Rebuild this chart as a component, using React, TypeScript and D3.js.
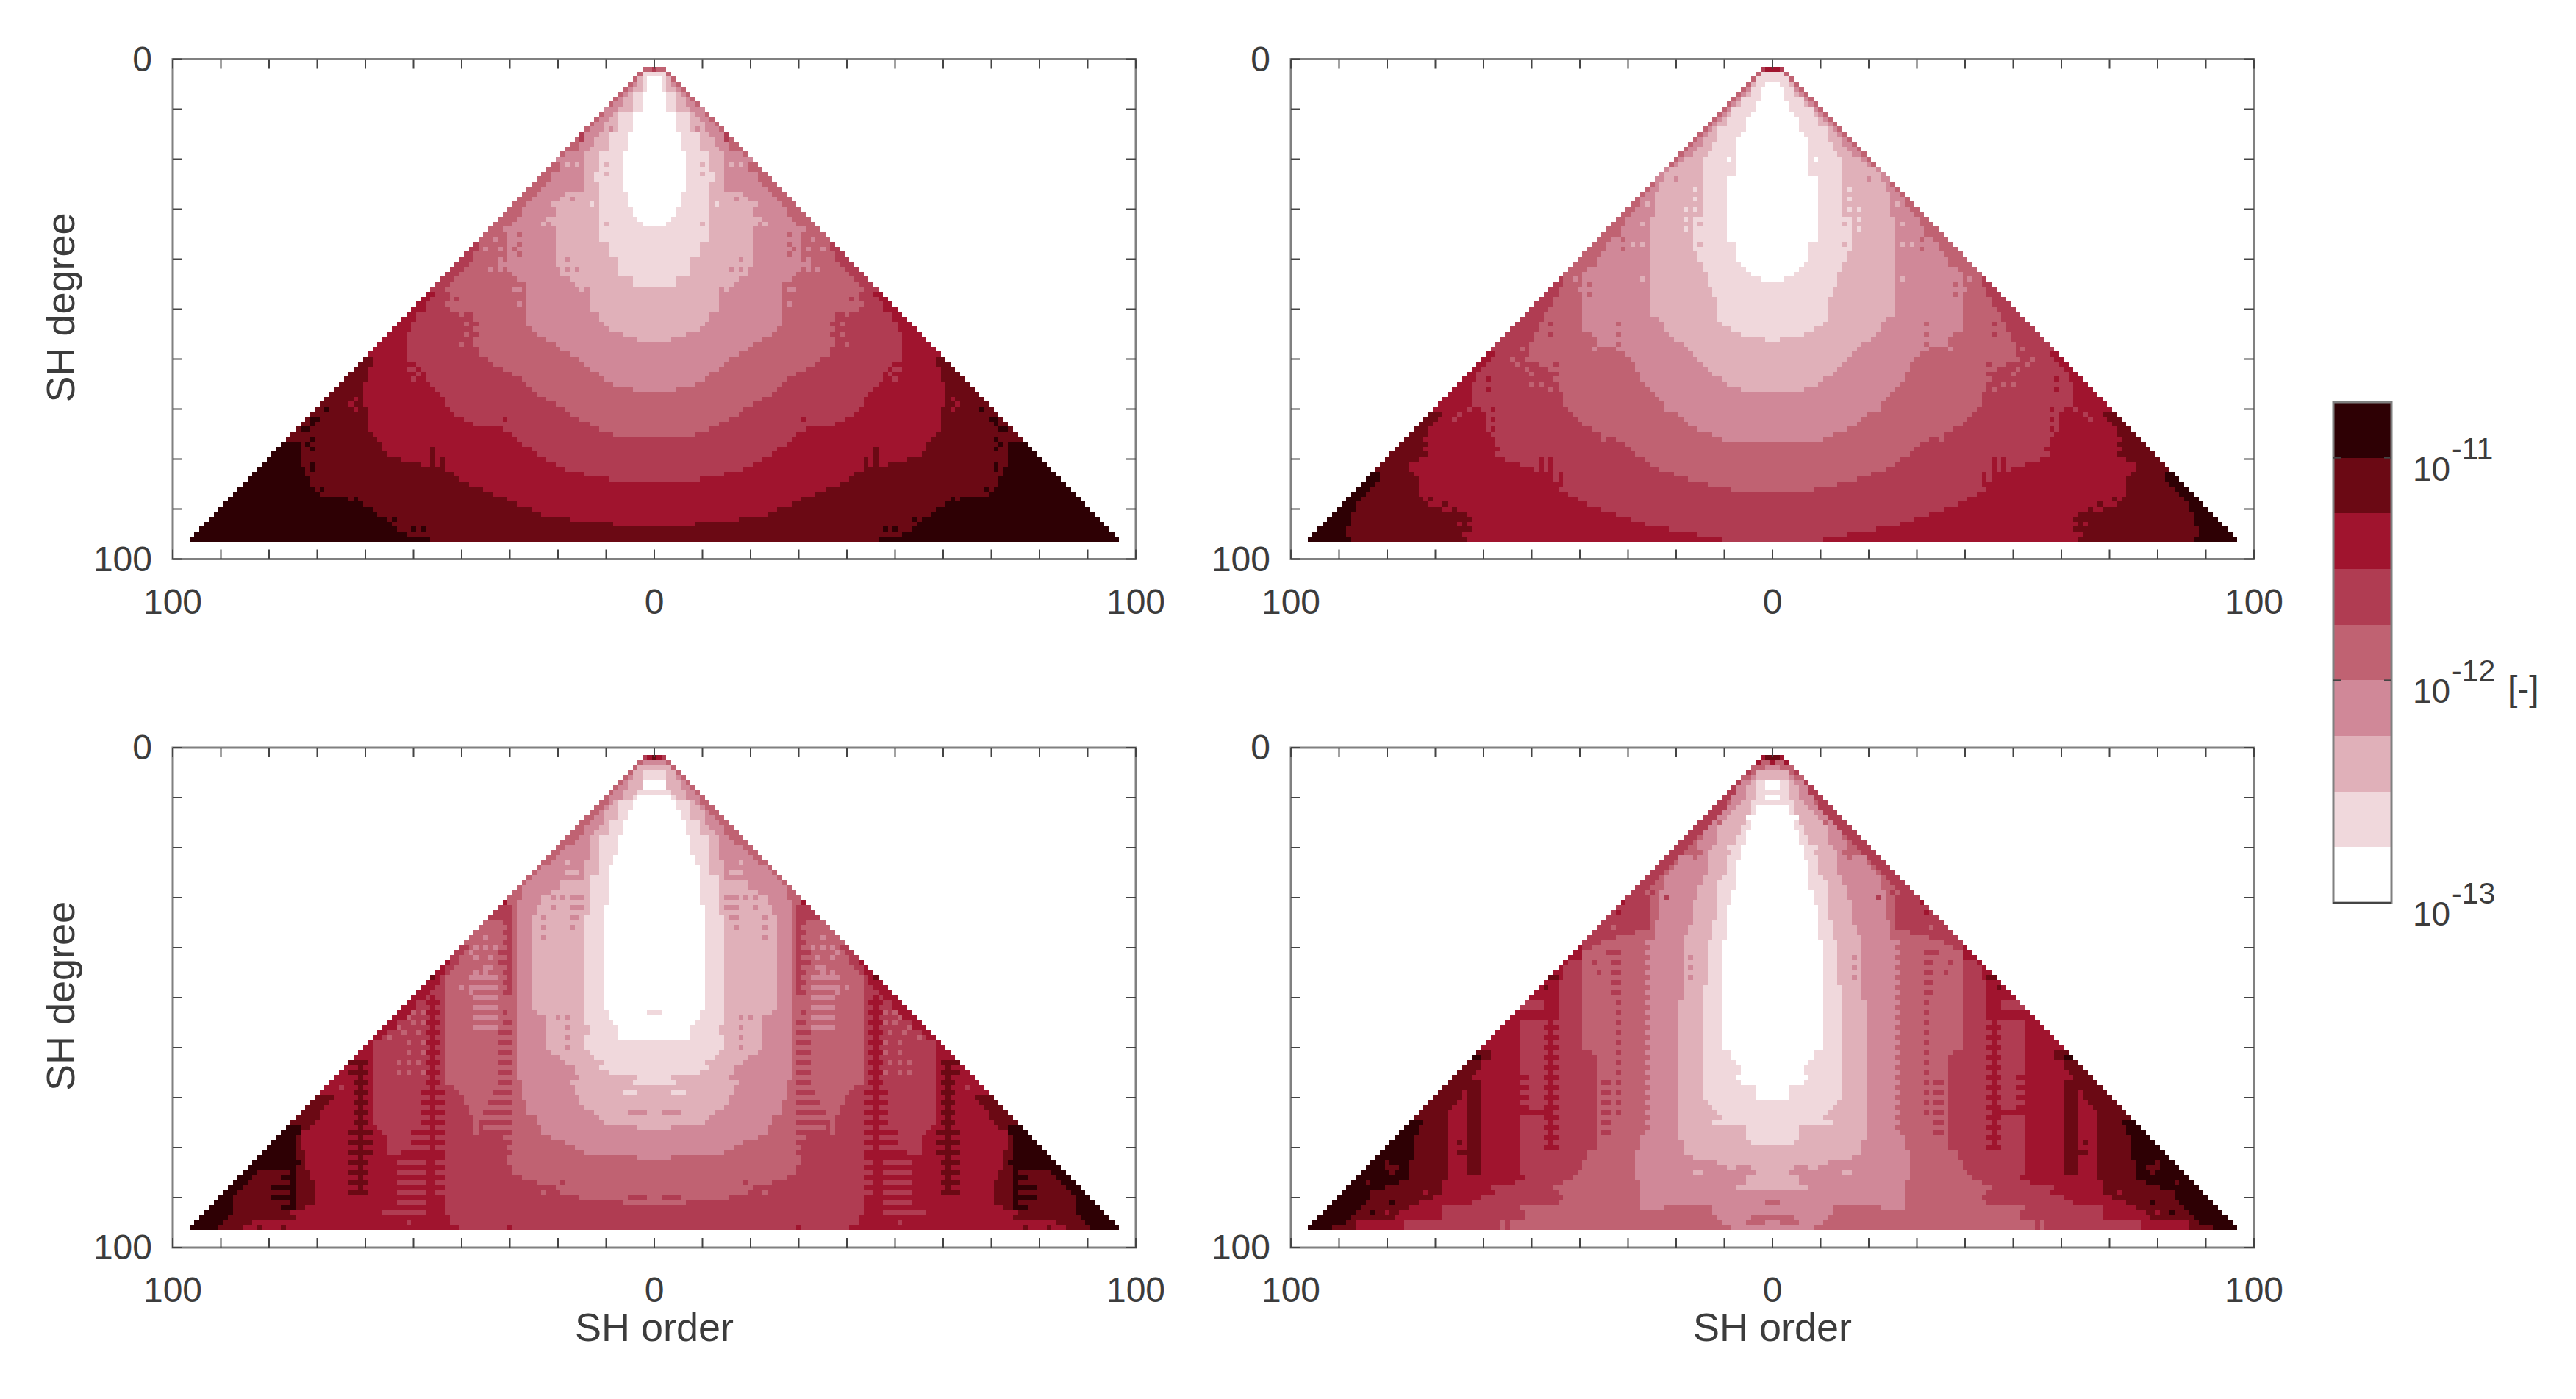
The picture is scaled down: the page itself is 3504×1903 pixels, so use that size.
import * as d3 from 'd3';

// one colour per band of the colour bar, lowest first
const bandColors = ['#ffffff', '#f0d8dc', '#e0b0b9', '#d08898', '#c06272', '#b03c52', '#a0142e', '#6b0914', '#2e0004'];
const bandExponents = [-13, -12.75, -12.5, -12.25, -12, -11.75, -11.5, -11.25, -11, -10.75];
const barTicks = [1e-13, 1e-12, 1e-11];
const barLabels = ['-13', '-12', '-11'];

const gridTicks = d3.range(-100, 101, 10);
const degreeTicks = d3.range(0, 101, 10);
const orderLabels = [-100, 0, 100];
const degreeLabels = [0, 100];
const firstDegree = 2;
const lastDegree = 96;

type Steps = number[][];

// for each band: [last degree of the step, largest |order| still in that band or lower]
const tlLevels: Steps[] = [
  [[3, -1], [6, 1], [10, 2], [14, 4], [18, 5], [26, 6], [29, 5], [31, 4], [32, 3], [33, 2]],
  [[2, -1], [6, 2], [10, 4], [14, 7], [18, 9], [22, 11], [24, 12], [36, 11], [39, 9], [43, 7], [45, 4]],
  [[2, -1], [3, 2], [5, 3], [6, 4], [7, 5], [9, 6], [10, 7], [11, 8], [12, 9], [14, 10], [15, 11], [17, 12], [18, 13], [25, 14], [26, 15], [27, 18], [28, 19], [31, 20], [33, 21], [41, 20], [43, 19], [44, 17], [45, 16], [50, 13], [52, 11], [53, 10], [54, 9], [55, 6], [56, 3]],
  [[2, -1], [3, 2], [4, 3], [5, 4], [6, 5], [7, 6], [8, 7], [9, 8], [11, 10], [12, 11], [13, 12], [14, 13], [16, 14], [18, 15], [19, 18], [20, 20], [22, 19], [24, 21], [25, 22], [26, 23], [27, 24], [28, 25], [29, 26], [31, 27], [32, 28], [33, 29], [42, 30], [43, 29], [44, 28], [53, 26], [54, 25], [55, 24], [56, 22], [57, 20], [58, 19], [59, 17], [60, 15], [61, 14], [62, 13], [63, 11], [64, 10], [65, 8], [66, 4]],
  [[36, 100], [38, 36], [40, 37], [41, 38], [42, 39], [43, 40], [44, 41], [50, 42], [57, 37], [59, 36], [60, 34], [61, 33], [62, 31], [63, 29], [64, 27], [65, 26], [66, 25], [67, 24], [68, 22], [69, 20], [70, 18], [71, 17], [72, 15], [73, 13], [74, 11], [75, 8]],
  [[46, 100], [47, 45], [48, 46], [50, 47], [52, 49], [54, 50], [60, 51], [61, 49], [62, 48], [64, 47], [65, 46], [66, 45], [67, 44], [69, 43], [70, 42], [71, 41], [72, 39], [73, 37], [74, 31], [75, 29], [76, 28], [77, 27], [78, 25], [79, 24], [80, 22], [81, 20], [82, 18], [83, 14], [84, 9]],
  [[59, 100], [61, 58], [64, 59], [69, 60], [74, 59], [75, 58], [76, 57], [78, 56], [79, 55], [80, 52], [81, 48], [82, 44], [83, 41], [84, 40], [85, 38], [86, 35], [87, 33], [88, 30], [89, 28], [90, 25], [91, 23], [92, 17], [93, 8]],
  [[76, 100], [81, 73], [83, 72], [85, 71], [86, 70], [87, 69], [88, 63], [89, 60], [90, 59], [91, 57], [92, 55], [93, 54], [94, 53], [95, 51], [96, 46]],
];
// [first degree, last degree, every n-th degree, from |order|, to |order|, band]
const tlRuns: number[][] = [
  [78, 82, 1, 46, 46, 7],
  [80, 83, 1, 44, 44, 7],
];
// [degree, |order|, band]
const tlFlecks: number[][] = [
  [2, 0, 5], [14, 9, 3], [21, 10, 2], [23, 10, 2], [29, 13, 1], [33, 10, 2], [21, 18, 2], [21, 16, 2], [26, 17, 3], [26, 15, 3], [28, 17, 3],
  [33, 23, 2], [33, 21, 2], [29, 21, 2], [30, 20, 2], [32, 22, 2], [32, 20, 2], [35, 28, 4], [37, 28, 4], [38, 29, 4], [39, 28, 4],
  [34, 31, 3], [36, 33, 3], [38, 35, 3], [38, 32, 3], [40, 32, 3], [41, 31, 3], [41, 32, 3], [42, 34, 3], [42, 32, 3],
  [40, 18, 3], [42, 18, 3], [42, 16, 3], [46, 15, 2], [46, 28, 3], [46, 29, 3], [49, 28, 3], [46, 43, 4], [48, 41, 5], [49, 43, 4],
  [15, 15, 5], [16, 15, 5], [72, 31, 6], [53, 39, 4], [55, 39, 4], [51, 40, 4], [57, 40, 4], [53, 37, 5], [55, 37, 5],
  [62, 50, 5], [62, 51, 5], [63, 49, 5], [64, 50, 5], [68, 62, 6], [70, 62, 6], [69, 63, 6],
  [76, 71, 8], [77, 72, 8], [78, 71, 8], [81, 71, 8], [82, 71, 8], [86, 69, 8], [92, 54, 8], [94, 50, 8], [94, 48, 8], [88, 62, 8], [90, 59, 8],
  [70, 68, 8], [72, 70, 8], [72, 71, 8], [73, 71, 8], [74, 72, 8], [74, 73, 8],
];

const trLevels: Steps[] = [
  [[4, -1], [5, 1], [8, 2], [10, 3], [11, 4], [14, 5], [15, 6], [23, 7], [36, 9], [40, 7], [41, 6], [42, 5], [43, 4], [44, 2]],
  [[2, -1], [3, 2], [5, 3], [7, 4], [9, 6], [11, 8], [13, 9], [16, 11], [18, 12], [19, 13], [31, 14], [38, 16], [40, 15], [42, 14], [45, 13], [47, 12], [52, 11], [53, 10], [54, 8], [55, 6], [56, 1]],
  [[2, -1], [3, 2], [4, 3], [6, 4], [7, 5], [8, 6], [9, 7], [10, 8], [11, 9], [12, 10], [13, 11], [14, 12], [15, 13], [17, 14], [18, 15], [19, 16], [20, 18], [21, 19], [22, 21], [24, 22], [26, 23], [31, 24], [51, 25], [52, 23], [54, 22], [55, 21], [56, 20], [57, 18], [58, 17], [59, 16], [60, 15], [61, 14], [62, 13], [63, 12], [64, 10], [65, 9], [66, 6]],
  [[2, -1], [3, 2], [4, 3], [5, 4], [6, 5], [7, 6], [8, 7], [9, 8], [10, 9], [11, 10], [12, 11], [13, 12], [14, 13], [15, 14], [16, 15], [17, 16], [18, 17], [19, 18], [20, 19], [21, 20], [24, 100], [25, 24], [26, 25], [27, 26], [29, 27], [30, 28], [31, 29], [33, 30], [35, 31], [36, 33], [38, 34], [39, 35], [40, 36], [41, 37], [42, 38], [54, 39], [55, 37], [57, 36], [58, 32], [59, 30], [60, 29], [62, 28], [64, 27], [65, 26], [66, 25], [67, 24], [68, 23], [70, 22], [71, 19], [72, 18], [73, 17], [74, 15], [75, 12], [76, 10]],
  [[43, 100], [45, 43], [47, 44], [49, 45], [50, 46], [52, 47], [54, 48], [56, 49], [60, 50], [61, 48], [62, 46], [64, 45], [66, 44], [69, 43], [70, 42], [71, 41], [72, 40], [73, 39], [74, 37], [75, 35], [76, 32], [77, 30], [78, 29], [79, 28], [80, 26], [81, 25], [82, 23], [83, 20], [84, 17], [85, 13], [86, 8]],
  [[58, 100], [59, 57], [60, 58], [61, 59], [62, 60], [64, 61], [68, 62], [69, 61], [70, 60], [74, 59], [75, 58], [77, 57], [79, 56], [80, 55], [81, 52], [82, 49], [83, 46], [84, 45], [86, 44], [87, 42], [88, 40], [89, 38], [90, 35], [91, 32], [92, 29], [93, 26], [94, 21], [95, 15], [96, 10]],
  [[70, 100], [71, 68], [72, 69], [73, 70], [75, 71], [79, 72], [80, 73], [82, 75], [83, 74], [87, 73], [88, 72], [89, 71], [90, 68], [91, 63], [94, 62], [95, 64], [96, 63]],
  [[82, 100], [84, 81], [85, 82], [86, 83], [87, 84], [88, 85], [90, 86], [93, 87], [95, 88], [96, 87]],
];
const trRuns: number[][] = [
  [80, 83, 1, 46, 46, 6],
  [80, 83, 1, 48, 48, 6],
  [83, 85, 1, 44, 44, 6],
  [74, 76, 1, 35, 35, 4],
];
const trFlecks: number[][] = [
  [2, 0, 6], [2, 1, 6], [2, 2, 5], [20, 9, 0], [30, 18, 1], [32, 18, 1], [34, 18, 1], [26, 16, 1], [28, 16, 1], [30, 16, 1],
  [33, 15, 2], [37, 15, 2], [42, 15, 2], [24, 20, 3], [29, 26, 2], [29, 24, 2], [33, 27, 2], [33, 25, 2], [37, 29, 2], [37, 27, 2],
  [36, 31, 4], [38, 31, 4], [41, 37, 4], [45, 38, 4], [47, 38, 4], [44, 41, 3], [46, 40, 3], [44, 27, 2],
  [53, 32, 4], [55, 32, 4], [57, 32, 4], [53, 46, 5], [55, 46, 5], [58, 37, 3], [61, 45, 5], [63, 45, 5], [64, 59, 6], [66, 59, 6],
  [77, 72, 7], [79, 72, 7], [82, 76, 7], [88, 71, 7], [89, 68, 7], [90, 66, 7], [93, 65, 6], [93, 63, 6], [80, 55, 5], [79, 57, 5],
  [72, 66, 5], [71, 65, 5], [70, 63, 5], [69, 62, 5], [70, 58, 6], [72, 58, 6], [74, 58, 6],
  [58, 52, 4], [60, 54, 4], [60, 51, 4], [61, 53, 4], [62, 51, 4], [63, 50, 4], [65, 50, 4], [65, 48, 4], [66, 46, 4],
];

const blLevels: Steps[] = [
  [[6, -1], [8, 2], [9, -1], [10, 3], [12, 4], [14, 5], [17, 6], [21, 7], [23, 8], [31, 9], [52, 10], [54, 9], [55, 8], [58, 7]],
  [[4, -1], [8, 2], [9, 3], [10, 4], [14, 7], [17, 9], [25, 11], [33, 13], [55, 14], [57, 13], [60, 14], [61, 13], [62, 12], [63, 10], [64, 11], [65, 9], [66, 3], [67, 4]],
  [[3, -1], [4, 3], [6, 4], [8, 5], [10, 6], [11, 8], [12, 9], [15, 10], [16, 11], [17, 12], [22, 13], [26, 14], [28, 19], [29, 21], [31, 23], [33, 24], [52, 25], [53, 24], [60, 22], [61, 21], [62, 19], [63, 18], [65, 16], [66, 15], [67, 17], [69, 16], [71, 15], [72, 14], [73, 12], [74, 11], [75, 10], [76, 3]],
  [[2, -1], [3, 2], [4, 3], [5, 4], [6, 5], [7, 6], [8, 7], [9, 8], [11, 9], [12, 10], [13, 11], [14, 12], [15, 13], [17, 14], [18, 15], [19, 16], [20, 18], [21, 19], [22, 20], [23, 21], [24, 23], [25, 24], [26, 25], [27, 26], [30, 27], [32, 28], [66, 28], [70, 27], [73, 26], [75, 24], [77, 23], [78, 21], [79, 18], [80, 16], [81, 14], [82, 3]],
  [[31, 100], [34, 29], [39, 100], [40, 38], [41, 39], [43, 40], [44, 41], [45, 42], [67, 43], [68, 41], [69, 40], [71, 39], [73, 38], [74, 37], [76, 35], [77, 33], [78, 31], [83, 30], [85, 29], [86, 27], [87, 24], [88, 20], [89, 19], [90, 15], [91, 6]],
  [[42, 100], [43, 42], [45, 43], [47, 44], [48, 45], [49, 46], [50, 47], [52, 49], [54, 50], [56, 53], [57, 55], [58, 56], [75, 58], [76, 57], [77, 56], [81, 55], [93, 43], [95, 42], [96, 40]],
  [[69, 100], [70, 66], [71, 67], [72, 68], [74, 69], [75, 70], [76, 71], [80, 73], [84, 72], [86, 71], [91, 70], [92, 72], [93, 75], [94, 74], [95, 83], [96, 85]],
  [[75, 100], [77, 73], [82, 74], [83, 73], [84, 75], [85, 82], [86, 83], [87, 84], [88, 85], [89, 86], [92, 87], [93, 87], [94, 88], [95, 89], [96, 90]],
];
const blRuns: number[][] = [
  [63, 89, 1, 61, 61, 7], [63, 65, 2, 60, 63, 7], [67, 75, 2, 60, 62, 7], [77, 81, 2, 59, 63, 7], [83, 89, 2, 60, 63, 7],
  [50, 82, 1, 46, 46, 6], [51, 67, 2, 45, 47, 6], [69, 75, 2, 44, 48, 6], [77, 79, 2, 44, 50, 6], [81, 81, 1, 44, 52, 6],
  [83, 93, 2, 48, 53, 5], [83, 89, 2, 44, 45, 5], [33, 49, 1, 30, 30, 5], [33, 49, 2, 31, 31, 5],
  [53, 53, 1, 31, 31, 5], [55, 55, 1, 30, 31, 5], [57, 67, 2, 30, 32, 5], [69, 69, 1, 30, 33, 5], [71, 71, 1, 30, 34, 5], [73, 75, 2, 30, 35, 5], [77, 81, 2, 30, 34, 5],
  [73, 77, 1, 37, 37, 4], [46, 56, 2, 33, 37, 3], [83, 91, 1, 75, 75, 8],
  [84, 84, 1, 75, 80, 8], [86, 86, 1, 75, 77, 8], [88, 88, 1, 75, 79, 8], [90, 90, 1, 75, 79, 8], [92, 92, 1, 75, 77, 8],
  [93, 93, 1, 53, 56, 5], [90, 90, 1, 2, 5, 5], [69, 69, 1, 4, 6, 1], [73, 73, 1, 2, 5, 3], [53, 53, 1, 0, 1, 1],
  [30, 30, 1, 15, 17, 3], [32, 32, 1, 15, 17, 3], [34, 34, 1, 16, 17, 3], [25, 25, 1, 16, 18, 2],
];
const blFlecks: number[][] = [
  [2, 0, 7], [2, 1, 6], [2, 2, 5], [23, 18, 2], [30, 21, 3], [30, 19, 3], [32, 21, 3], [36, 17, 3], [34, 23, 3], [36, 23, 3], [38, 23, 3],
  [31, 31, 6], [33, 32, 5], [46, 46, 7], [38, 35, 3], [40, 37, 3], [40, 35, 3], [40, 33, 3], [41, 38, 3], [42, 37, 3], [42, 34, 3],
  [44, 35, 3], [44, 34, 3], [45, 37, 3], [45, 35, 3], [46, 38, 3], [48, 40, 3], [48, 38, 3], [49, 38, 3], [41, 32, 5], [43, 32, 5],
  [53, 50, 4], [53, 48, 4], [54, 51, 4], [55, 48, 4], [55, 50, 4], [56, 53, 4], [57, 49, 4], [57, 52, 4], [58, 55, 4], [59, 51, 4], [59, 48, 4],
  [61, 51, 4], [61, 48, 4], [63, 53, 4], [63, 51, 4], [63, 49, 4], [65, 53, 4], [65, 51, 4], [65, 48, 4], [68, 65, 5],
  [96, 82, 7], [96, 77, 7], [96, 30, 6], [95, 51, 5], [87, 19, 5], [89, 23, 4],
  [54, 20, 3], [54, 18, 3], [56, 18, 3], [58, 18, 3], [60, 18, 3],
];

const brLevels: Steps[] = [
  [[6, -1], [8, 1], [9, -1], [10, 1], [11, -1], [13, 3], [14, 5], [16, 4], [19, 5], [22, 6], [28, 7], [31, 8], [38, 9], [60, 10], [62, 8], [63, 7], [65, 6], [66, 7], [67, 6], [70, 3]],
  [[6, -1], [10, 3], [13, 4], [15, 5], [17, 6], [19, 7], [21, 8], [25, 9], [26, 10], [34, 11], [38, 12], [47, 13], [70, 14], [71, 13], [72, 12], [73, 11], [74, 10], [75, 12], [78, 5], [79, 4]],
  [[4, -1], [6, 3], [7, 4], [10, 5], [11, 6], [12, 7], [13, 8], [14, 9], [15, 10], [19, 11], [20, 12], [25, 13], [27, 14], [30, 15], [35, 16], [37, 17], [50, 18], [78, 19], [81, 18], [82, 16], [83, 11], [84, 4], [86, 3], [87, 5], [88, 7]],
  [[3, -1], [4, 1], [5, 2], [6, 4], [7, 6], [9, 7], [11, 8], [12, 9], [13, 10], [14, 11], [15, 12], [16, 13], [18, 14], [20, 15], [21, 16], [23, 19], [24, 20], [25, 21], [28, 22], [34, 23], [38, 24], [77, 25], [80, 27], [86, 28], [92, 27], [93, 12], [94, 11], [95, 10], [96, 8]],
  [[3, 2], [4, 100], [5, 4], [6, 100], [7, 6], [9, 7], [10, 8], [12, 9], [13, 10], [14, 11], [15, 12], [16, 13], [17, 14], [18, 15], [19, 16], [20, 17], [21, 18], [22, 19], [23, 20], [24, 21], [25, 22], [26, 23], [27, 24], [28, 25], [29, 26], [36, 25], [37, 28], [38, 32], [39, 36], [40, 37], [60, 39], [61, 37], [80, 36], [82, 38], [84, 39], [85, 40], [86, 41], [87, 43], [88, 45], [89, 44], [90, 43], [91, 44], [92, 52], [94, 51], [96, 54]],
  [[39, 100], [42, 39], [43, 42], [46, 43], [80, 44], [84, 47], [85, 52], [86, 51], [87, 53], [88, 58], [89, 57], [90, 60], [91, 62], [94, 68], [96, 76]],
  [[60, 100], [61, 58], [62, 59], [64, 60], [65, 61], [66, 62], [68, 63], [70, 64], [71, 65], [72, 66], [86, 67], [89, 68], [90, 70], [91, 73], [92, 75], [93, 77], [94, 78], [96, 86]],
  [[74, 100], [75, 72], [77, 73], [82, 74], [86, 75], [87, 77], [88, 80], [90, 83], [91, 84], [92, 85], [93, 86], [94, 87], [95, 88], [96, 91]],
];
const brRuns: number[][] = [
  [41, 49, 2, 32, 33, 5], [51, 73, 2, 32, 32, 5], [39, 77, 2, 25, 26, 3], [51, 59, 2, 37, 38, 4],
  [51, 52, 1, 48, 52, 5], [55, 84, 1, 48, 52, 5], [55, 81, 2, 47, 47, 5], [55, 81, 2, 45, 45, 5],
  [67, 85, 1, 61, 63, 7], [67, 77, 2, 34, 35, 5],
  [66, 72, 2, 51, 53, 6], [73, 73, 1, 47, 53, 6], [62, 62, 1, 61, 63, 8],
  [92, 92, 1, 13, 22, 4], [85, 85, 1, 15, 16, 2], [84, 84, 1, 8, 9, 2], [88, 88, 1, 6, 7, 2], [86, 86, 1, 4, 5, 2],
  [94, 94, 1, 0, 4, 4], [95, 95, 1, 2, 5, 4], [91, 91, 1, 0, 1, 4], [81, 81, 1, 64, 65, 7], [84, 84, 1, 78, 80, 7],
];
const brFlecks: number[][] = [
  [2, 0, 7], [2, 1, 7], [2, 2, 6], [3, 0, 6], [3, 1, 4], [3, 2, 4], [3, 3, 6],
  [14, 9, 2], [20, 9, 1], [15, 11, 4], [21, 16, 4], [22, 16, 4], [21, 15, 4], [29, 25, 5], [30, 22, 5], [36, 33, 4], [38, 34, 5],
  [41, 34, 5], [41, 32, 5], [39, 36, 5], [43, 37, 5], [44, 39, 4], [45, 36, 5], [48, 47, 7], [46, 45, 7], [46, 46, 7], [33, 32, 6], [31, 31, 6],
  [42, 17, 3], [44, 17, 3], [46, 17, 3], [95, 56, 4], [96, 56, 4], [93, 80, 6], [89, 72, 6], [85, 79, 7], [87, 84, 7], [91, 79, 8], [93, 83, 8], [83, 80, 7],
  [62, 60, 7], [62, 59, 7], [69, 66, 7], [70, 65, 7], [70, 67, 7], [79, 65, 7],
];

const panels = [
  { left: 235, top: 80.5, levels: tlLevels, runs: tlRuns, flecks: tlFlecks, yTitle: true, xTitle: false },
  { left: 1756, top: 80.5, levels: trLevels, runs: trRuns, flecks: trFlecks, yTitle: false, xTitle: false },
  { left: 235, top: 1017, levels: blLevels, runs: blRuns, flecks: blFlecks, yTitle: true, xTitle: true },
  { left: 1756, top: 1017, levels: brLevels, runs: brRuns, flecks: brFlecks, yTitle: false, xTitle: true },
];

const panelWidth = 1310;
const panelHeight = 680;
const tickLength = 13;
const textColor = '#3c3c3c';
const frameColor = '#808080';
const tickColor = '#444444';
const font = '"Liberation Sans", Arial, sans-serif';

function boundAt (steps: Steps, degree: number) {
  const step = steps.find((s) => s[0] >= degree);
  return step ? step[1] : -1;
}

// band of every order in one degree row, contours first and then the overlays
function rowBands (levels: Steps[], runs: number[][], flecks: number[][], degree: number) {
  const bands = new Map<number, number>();
  for (let m = 0; m <= degree; m++) {
    const k = levels.findIndex((steps) => m <= boundAt(steps, degree));
    bands.set(m, k < 0 ? 8 : k);
  }
  runs.forEach(([l0, l1, every, m0, m1, band]) => {
    if (degree < l0 || degree > l1 || (degree - l0) % every !== 0) return;
    for (let m = m0; m <= Math.min(m1, degree); m++) bands.set(m, band);
  });
  flecks.forEach(([l, m, band]) => {
    if (l === degree && m <= degree) bands.set(m, band);
  });
  return bands;
}

function Panel ({ left, top, levels, runs, flecks, yTitle, xTitle }: (typeof panels)[number]) {
  const x = d3.scaleLinear().domain([-100, 100]).range([left, left + panelWidth]);
  const y = d3.scaleLinear().domain([0, 100]).range([top, top + panelHeight]);

  const cells: { x0: number; x1: number; y0: number; y1: number; band: number }[] = [];
  d3.range(firstDegree, lastDegree + 1).forEach((degree) => {
    const bands = rowBands(levels, runs, flecks, degree);
    let start = -degree;
    for (let m = -degree; m <= degree; m++) {
      const band = bands.get(Math.abs(m)) as number;
      const next = m < degree ? bands.get(Math.abs(m + 1)) : -1;
      if (band !== next) {
        if (band > 0) cells.push({ x0: x(start - 0.5), x1: x(m + 0.5), y0: y(degree - 0.5), y1: y(degree + 0.5), band });
        start = m + 1;
      }
    }
  });

  return (
    <g>
      <g shapeRendering="crispEdges">
        {cells.map((c, i) => (
          <rect key={i} x={c.x0} y={c.y0} width={c.x1 - c.x0} height={c.y1 - c.y0} fill={bandColors[c.band]} />
        ))}
      </g>
      <rect x={left} y={top} width={panelWidth} height={panelHeight} fill="none" stroke={frameColor} strokeWidth={3} />
      <g stroke={tickColor} strokeWidth={2}>
        {gridTicks.map((t) => (
          <g key={t}>
            <line x1={x(t)} x2={x(t)} y1={top} y2={top + tickLength} />
            <line x1={x(t)} x2={x(t)} y1={top + panelHeight} y2={top + panelHeight - tickLength} />
          </g>
        ))}
        {degreeTicks.map((t) => (
          <g key={t}>
            <line x1={left} x2={left + tickLength} y1={y(t)} y2={y(t)} />
            <line x1={left + panelWidth} x2={left + panelWidth - tickLength} y1={y(t)} y2={y(t)} />
          </g>
        ))}
      </g>
      <g fill={textColor} fontFamily={font} fontSize={48}>
        {orderLabels.map((t) => (
          <text key={t} x={x(t)} y={top + panelHeight + 74} textAnchor="middle">{Math.abs(t)}</text>
        ))}
        {degreeLabels.map((t) => (
          <text key={t} x={left - 28} y={y(t) + 16} textAnchor="end">{t}</text>
        ))}
        {xTitle && <text x={x(0)} y={1824} textAnchor="middle" fontSize={54}>SH order</text>}
        {yTitle && (
          <text transform={`translate(101,${top + 338}) rotate(-90)`} textAnchor="middle" fontSize={54}>SH degree</text>
        )}
      </g>
    </g>
  );
}

function ColorBar () {
  const barLeft = 3174;
  const barWidth = 79;
  const scale = d3.scaleLog().domain([1e-13, Math.pow(10, -10.75)]).range([1228, 547]);
  return (
    <g>
      <g shapeRendering="crispEdges">
        {bandColors.map((color, i) => {
          const y0 = scale(Math.pow(10, bandExponents[i + 1]));
          const y1 = scale(Math.pow(10, bandExponents[i]));
          return <rect key={color} x={barLeft} y={y0} width={barWidth} height={y1 - y0} fill={color} />;
        })}
      </g>
      <rect x={barLeft} y={547} width={barWidth} height={681} fill="none" stroke={frameColor} strokeWidth={3} />
      <line x1={barLeft} x2={barLeft + barWidth} y1={1228} y2={1228} stroke={tickColor} strokeWidth={2} />
      {barTicks.map((t, i) => (
        <g key={t}>
          <line x1={barLeft} x2={barLeft + 10} y1={scale(t)} y2={scale(t)} stroke={tickColor} strokeWidth={2} />
          <line x1={barLeft + barWidth} x2={barLeft + barWidth - 10} y1={scale(t)} y2={scale(t)} stroke={tickColor} strokeWidth={2} />
          <text x={3282} y={scale(t) + 31} fill={textColor} fontFamily={font} fontSize={46}>10</text>
          <text x={3335} y={scale(t) + 1} fill={textColor} fontFamily={font} fontSize={41}>{barLabels[i]}</text>
        </g>
      ))}
      <text x={3411} y={953} fill={textColor} fontFamily={font} fontSize={48}>[-]</text>
    </g>
  );
}

export default function App () {
  return (
    <svg width={3504} height={1903} style={{ position: 'absolute', left: 0, top: 0, background: '#fff' }}>
      {panels.map((p) => (
        <Panel key={`${p.left}-${p.top}`} {...p} />
      ))}
      <ColorBar />
    </svg>
  );
}
